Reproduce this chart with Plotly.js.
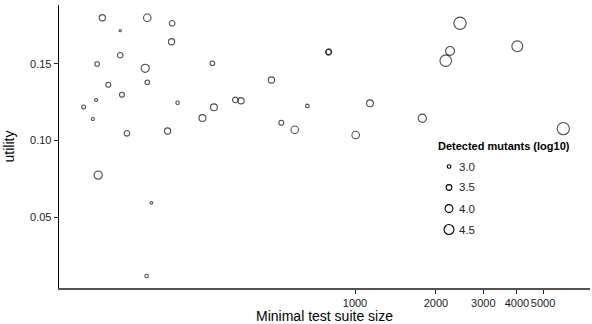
<!DOCTYPE html>
<html>
<head>
<meta charset="utf-8">
<script src="https://cdn.plot.ly/plotly-3.0.1.min.js"></script>
<style>
html,body{margin:0;padding:0;background:#fff;}
#chart{width:592px;height:324px;}
</style>
</head>
<body>
<div id="chart"></div>
<script>
// Minimal test suite size (x), utility (y), detected mutants log10 (size)
const suiteSize = [115, 134, 169, 209, 208, 110, 134, 166, 295, 121,
                   169, 136, 98, 109, 106, 219, 142, 201, 271, 299,
                   359, 377, 489, 532, 597, 796, 800, 2457, 2256, 2174,
                   4012, 665, 1137, 1779, 1006, 5948, 111, 175, 168];
const utility = [0.1799, 0.1715, 0.1799, 0.1763, 0.1643, 0.1498, 0.1555, 0.1470, 0.1503, 0.1363,
                 0.1379, 0.1298, 0.1218, 0.1264, 0.1140, 0.1246, 0.1047, 0.1062, 0.1146, 0.1216,
                 0.1264, 0.1259, 0.1394, 0.1116, 0.1070, 0.1574, 0.1578, 0.1763, 0.1583, 0.1520,
                 0.1613, 0.1225, 0.1242, 0.1145, 0.1036, 0.1077, 0.0775, 0.0595, 0.0118];
const mutantsLog10 = [3.63, 2.67, 3.94, 3.47, 3.63, 3.23, 3.47, 4.10, 3.23, 3.31,
                      3.23, 3.31, 3.07, 2.83, 2.83, 2.99, 3.47, 3.63, 3.79, 3.79,
                      3.47, 3.63, 3.63, 3.31, 3.94, 3.47, 3.47, 5.05, 4.26, 4.90,
                      4.74, 2.99, 3.79, 4.10, 3.94, 5.05, 4.10, 2.75, 2.99];
const legendValues = [3.0, 3.5, 4.0, 4.5];
const legendLabels = ["3.0", "3.5", "4.0", "4.5"];
const xTickVals = [1000, 2000, 3000, 4000, 5000];
const xTickText = ["1000", "2000", "3000", "4000", "5000"];
const yTickVals = [0.05, 0.10, 0.15];
const yTickText = ["0.05", "0.10", "0.15"];

const LW = 1.1;
function markerSize(v) { return Math.max(2, 4.7 + 4.2 * (v - 3) - LW); }

const FONT = "Liberation Sans, Arial, sans-serif";

const trace = {
  type: "scatter", mode: "markers",
  x: suiteSize, y: utility,
  marker: {
    symbol: "circle-open",
    size: mutantsLog10.map(markerSize),
    color: "#000",
    line: {width: LW, color: "#000"}
  },
  hoverinfo: "x+y",
  showlegend: false
};

// plot area in pixels: x 59..590, y 5..288
const L = 59, R = 590, T = 5, B = 288;
const px = p => (p - L) / (R - L);
const py = p => (B - p) / (B - T);

const shapes = [];
const annotations = [];
annotations.push({
  xref: "paper", yref: "paper", x: px(436), y: py(146),
  xanchor: "left", yanchor: "middle", showarrow: false,
  text: "<b>Detected mutants (log10)</b>",
  font: {family: FONT, size: 11, color: "#000"}
});
legendValues.forEach((v, i) => {
  const cy = 166.5 + i * 21;
  const d = markerSize(v);
  shapes.push({
    type: "circle", xref: "paper", yref: "paper",
    xsizemode: "pixel", ysizemode: "pixel",
    xanchor: px(449), yanchor: py(cy),
    x0: -d / 2, x1: d / 2, y0: -d / 2, y1: d / 2,
    line: {color: "#000", width: LW}, fillcolor: "rgba(0,0,0,0)"
  });
  annotations.push({
    xref: "paper", yref: "paper", x: px(457), y: py(cy),
    xanchor: "left", yanchor: "middle", showarrow: false,
    text: legendLabels[i],
    font: {family: FONT, size: 11.5, color: "#222"}
  });
});

const layout = {
  width: 592, height: 324,
  margin: {l: L, r: 592 - R, t: T, b: 324 - B, pad: 0},
  paper_bgcolor: "#fff", plot_bgcolor: "#fff",
  font: {family: FONT, size: 11, color: "#222"},
  showlegend: false,
  xaxis: {
    type: "log",
    range: [1.8996, 3.8736],
    tickvals: xTickVals, ticktext: xTickText, tickangle: 0,
    ticks: "outside", ticklen: 4, tickwidth: 1, tickcolor: "#222",
    showgrid: false, zeroline: false,
    showline: true, linecolor: "#555", linewidth: 2,
    tickfont: {family: FONT, size: 11, color: "#222"},
    title: {text: "Minimal test suite size", font: {family: FONT, size: 14, color: "#000"}, standoff: 4}
  },
  yaxis: {
    range: [0.0040, 0.1882],
    tickvals: yTickVals, ticktext: yTickText,
    ticks: "outside", ticklen: 4, tickwidth: 1, tickcolor: "#222",
    showgrid: false, zeroline: false,
    showline: true, linecolor: "#000", linewidth: 1.3,
    tickfont: {family: FONT, size: 11, color: "#222"},
    title: {text: "utility", font: {family: FONT, size: 14, color: "#000"}, standoff: 12}
  },
  shapes: shapes,
  annotations: annotations
};

Plotly.newPlot("chart", [trace], layout, {staticPlot: true, displayModeBar: false});
</script>
</body>
</html>
